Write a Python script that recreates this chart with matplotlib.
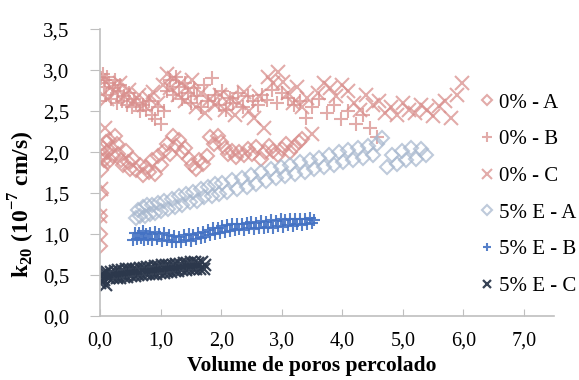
import matplotlib
matplotlib.use('Agg')
import matplotlib.pyplot as plt

# 0% - A (losangos)
x_0a = [0.00, 0.00, 0.00, 0.01, 0.02, 0.03, 0.05, 0.07, 0.09, 0.11,
        0.13, 0.15, 0.18, 0.21, 0.24, 0.27, 0.30, 0.34, 0.38, 0.42,
        0.46, 0.50, 0.55, 0.60, 0.65, 0.70, 0.75, 0.80, 0.85, 0.90,
        0.95, 1.00, 1.05, 1.10, 1.15, 1.20, 1.25, 1.30, 1.35, 1.40,
        1.46, 1.52, 1.58, 1.64, 1.70, 1.76, 1.82, 1.88, 1.94, 2.00,
        2.06, 2.12, 2.18, 2.24, 2.30, 2.37, 2.44, 2.51, 2.58, 2.65,
        2.72, 2.79, 2.86, 2.93, 3.00, 3.07, 3.14, 3.21, 3.28, 3.34]
y_0a = [0.85, 1.00, 1.22, 1.50, 1.78, 1.95, 2.05, 1.90, 2.12, 2.00,
        1.88, 2.15, 2.05, 1.95, 2.20, 2.10, 1.98, 1.90, 1.85, 2.02,
        1.88, 1.80, 1.92, 1.78, 1.85, 1.72, 1.82, 1.76, 1.90, 1.74,
        1.95, 1.85, 2.02, 2.10, 1.98, 2.20, 2.08, 2.15, 2.00, 2.05,
        1.92, 1.85, 1.80, 1.90, 1.86, 1.95, 2.18, 2.10, 2.20, 2.12,
        2.05, 1.98, 2.02, 1.94, 2.00, 1.96, 2.04, 1.98, 2.06, 1.92,
        2.00, 2.08, 2.02, 1.96, 2.04, 2.10, 2.00, 2.06, 2.12, 2.16]

# 0% - B (cruzes +)
x_0b = [0.00, 0.02, 0.04, 0.06, 0.08, 0.10, 0.12, 0.15, 0.18, 0.21,
        0.24, 0.27, 0.30, 0.33, 0.36, 0.40, 0.44, 0.48, 0.52, 0.56,
        0.60, 0.65, 0.70, 0.75, 0.80, 0.85, 0.90, 0.95, 1.00, 1.05,
        1.10, 1.15, 1.20, 1.25, 1.30, 1.35, 1.40, 1.45, 1.50, 1.55,
        1.60, 1.66, 1.72, 1.78, 1.84, 1.90, 1.96, 2.02, 2.08, 2.14,
        2.20, 2.28, 2.36, 2.44, 2.52, 2.60, 2.68, 2.76, 2.84, 2.92,
        3.00, 3.10, 3.20, 3.30, 3.40, 3.50, 3.62, 3.74, 3.86, 3.98,
        4.10, 4.22, 4.34, 4.46, 4.58]
y_0b = [2.62, 2.90, 2.95, 2.80, 2.88, 2.70, 2.92, 2.85, 2.65, 2.78,
        2.88, 2.60, 2.75, 2.82, 2.62, 2.68, 2.58, 2.72, 2.55, 2.65,
        2.60, 2.50, 2.58, 2.52, 2.62, 2.45, 2.40, 2.55, 2.35, 2.50,
        2.75, 2.88, 2.70, 2.92, 2.80, 2.65, 2.85, 2.72, 2.60, 2.78,
        2.68, 2.55, 2.82, 2.62, 2.90, 2.70, 2.58, 2.75, 2.52, 2.66,
        2.60, 2.72, 2.55, 2.68, 2.62, 2.58, 2.70, 2.64, 2.76, 2.60,
        2.72, 2.66, 2.58, 2.62, 2.42, 2.55, 2.65, 2.48, 2.58, 2.40,
        2.50, 2.35, 2.45, 2.30, 2.18]

# 0% - C (x)
x_0c = [0.00, 0.02, 0.05, 0.08, 0.12, 0.18, 0.25, 0.32, 0.40, 0.48,
        0.56, 0.64, 0.72, 0.80, 0.88, 0.96, 1.04, 1.10, 1.16, 1.22,
        1.28, 1.34, 1.40, 1.46, 1.52, 1.58, 1.66, 1.74, 1.82, 1.90,
        1.98, 2.06, 2.14, 2.22, 2.30, 2.38, 2.46, 2.54, 2.62, 2.70,
        2.78, 2.86, 2.94, 3.02, 3.10, 3.18, 3.26, 3.34, 3.42, 3.50,
        3.60, 3.70, 3.80, 3.90, 4.00, 4.10, 4.20, 4.30, 4.40, 4.50,
        4.60, 4.70, 4.80, 4.90, 5.00, 5.10, 5.20, 5.30, 5.40, 5.50,
        5.60, 5.70, 5.80, 5.90, 5.98]
y_0c = [1.22, 1.55, 1.90, 2.30, 2.65, 2.80, 2.72, 2.85, 2.68, 2.76,
        2.62, 2.70, 2.58, 2.66, 2.74, 2.60, 2.82, 2.95, 2.78, 2.90,
        2.70, 2.85, 2.62, 2.76, 2.88, 2.55, 2.72, 2.48, 2.65, 2.58,
        2.70, 2.52, 2.66, 2.45, 2.60, 2.74, 2.50, 2.42, 2.68, 2.30,
        2.92, 2.84, 2.98, 2.86, 2.72, 2.60, 2.80, 2.55, 2.66, 2.22,
        2.72, 2.84, 2.78, 2.68, 2.82, 2.75, 2.60, 2.52, 2.70, 2.58,
        2.62, 2.48, 2.55, 2.45, 2.60, 2.52, 2.48, 2.58, 2.52, 2.44,
        2.56, 2.62, 2.42, 2.70, 2.85]

# 5% E - A
x_5a = [0.60, 0.63, 0.66, 0.70, 0.74, 0.78, 0.82, 0.86, 0.90, 0.95,
        1.00, 1.06, 1.12, 1.18, 1.24, 1.30, 1.36, 1.42, 1.48, 1.54,
        1.60, 1.66, 1.72, 1.78, 1.84, 1.90, 1.96, 2.02, 2.10, 2.18,
        2.26, 2.34, 2.42, 2.50, 2.58, 2.66, 2.74, 2.82, 2.90, 2.98,
        3.06, 3.14, 3.22, 3.30, 3.38, 3.46, 3.54, 3.62, 3.70, 3.78,
        3.86, 3.94, 4.02, 4.10, 4.18, 4.26, 4.34, 4.42, 4.50, 4.58,
        4.66, 4.74, 4.82, 4.90, 4.98, 5.06, 5.14, 5.22, 5.30, 5.38]
y_5a = [1.20, 1.30, 1.22, 1.33, 1.22, 1.35, 1.25, 1.36, 1.26, 1.38,
        1.28, 1.41, 1.31, 1.43, 1.33, 1.46, 1.36, 1.49, 1.39, 1.52,
        1.41, 1.55, 1.45, 1.58, 1.47, 1.61, 1.49, 1.63, 1.52, 1.66,
        1.55, 1.69, 1.58, 1.72, 1.61, 1.76, 1.65, 1.79, 1.68, 1.82,
        1.71, 1.85, 1.74, 1.88, 1.76, 1.90, 1.79, 1.93, 1.82, 1.96,
        1.85, 2.00, 1.88, 2.03, 1.91, 2.05, 1.93, 2.07, 1.96, 2.10,
        2.17, 1.82, 1.96, 1.86, 2.01, 1.90, 2.05, 1.92, 2.04, 1.96]

# 5% E - B
x_5b = [0.55, 0.58, 0.61, 0.64, 0.67, 0.70, 0.73, 0.76, 0.79, 0.82,
        0.86, 0.90, 0.94, 0.98, 1.02, 1.06, 1.10, 1.14, 1.18, 1.22,
        1.26, 1.30, 1.34, 1.38, 1.42, 1.46, 1.50, 1.54, 1.58, 1.62,
        1.66, 1.70, 1.74, 1.78, 1.82, 1.86, 1.90, 1.94, 1.98, 2.02,
        2.06, 2.10, 2.14, 2.18, 2.22, 2.26, 2.30, 2.34, 2.38, 2.42,
        2.46, 2.50, 2.54, 2.58, 2.62, 2.66, 2.70, 2.74, 2.78, 2.82,
        2.86, 2.90, 2.94, 2.98, 3.02, 3.06, 3.10, 3.14, 3.18, 3.22,
        3.26, 3.30, 3.34, 3.38, 3.42, 3.46, 3.50, 3.54]
y_5b = [0.93, 1.01, 0.94, 1.02, 0.95, 1.04, 0.93, 1.00, 0.94, 1.02,
        0.93, 1.03, 0.94, 1.00, 0.92, 1.01, 0.93, 0.99, 0.91, 0.98,
        0.90, 0.97, 0.91, 0.99, 0.93, 1.00, 0.92, 0.99, 0.94, 1.01,
        0.95, 1.03, 0.97, 1.05, 0.99, 1.07, 1.00, 1.08, 1.02, 1.10,
        1.03, 1.11, 1.04, 1.12, 1.05, 1.12, 1.06, 1.13, 1.05, 1.14,
        1.07, 1.15, 1.06, 1.14, 1.08, 1.16, 1.07, 1.15, 1.09, 1.17,
        1.08, 1.16, 1.10, 1.18, 1.09, 1.17, 1.11, 1.19, 1.10, 1.18,
        1.12, 1.19, 1.11, 1.18, 1.13, 1.20, 1.14, 1.17]

# 5% E - C
x_5c = [0.00, 0.01, 0.02, 0.04, 0.06, 0.08, 0.10, 0.12, 0.15, 0.18,
        0.21, 0.24, 0.27, 0.30, 0.33, 0.36, 0.39, 0.42, 0.45, 0.48,
        0.51, 0.54, 0.57, 0.60, 0.63, 0.66, 0.69, 0.72, 0.75, 0.78,
        0.81, 0.84, 0.87, 0.90, 0.93, 0.96, 0.99, 1.02, 1.05, 1.08,
        1.11, 1.14, 1.17, 1.20, 1.23, 1.26, 1.29, 1.32, 1.35, 1.38,
        1.41, 1.44, 1.47, 1.50, 1.53, 1.56, 1.59, 1.62, 1.65, 1.68,
        1.71, 1.74]
y_5c = [0.40, 0.50, 0.43, 0.52, 0.44, 0.53, 0.38, 0.54, 0.46, 0.54,
        0.46, 0.55, 0.47, 0.56, 0.47, 0.56, 0.48, 0.57, 0.48, 0.57,
        0.49, 0.58, 0.49, 0.58, 0.50, 0.59, 0.50, 0.59, 0.51, 0.60,
        0.51, 0.60, 0.52, 0.61, 0.52, 0.61, 0.53, 0.62, 0.53, 0.62,
        0.54, 0.63, 0.54, 0.63, 0.55, 0.64, 0.55, 0.64, 0.56, 0.65,
        0.56, 0.65, 0.57, 0.66, 0.57, 0.66, 0.57, 0.65, 0.58, 0.66,
        0.57, 0.63]

labels = ['0% - A', '0% - B', '0% - C', '5% E - A', '5% E - B', '5% E - C']
xticks = [0, 1, 2, 3, 4, 5, 6, 7]
yticks = [0, 0.5, 1, 1.5, 2, 2.5, 3, 3.5]

plt.rcParams['font.family'] = ['Liberation Serif', 'DejaVu Serif']
plt.rcParams['mathtext.fontset'] = 'custom'
plt.rcParams['mathtext.rm'] = 'Liberation Serif:bold'
plt.rcParams['mathtext.bf'] = 'Liberation Serif:bold'

fig = plt.figure(figsize=(5.79, 3.8), dpi=100)
ax = fig.add_axes([0.173, 0.168, 0.784, 0.755])

pink = '#d98f8d'
series = [
    (x_0a, y_0a, 'D', pink, 7.5, 1.5, 0.75),
    (x_0b, y_0b, '+', pink, 10, 1.5, 0.75),
    (x_0c, y_0c, 'x', pink, 10, 1.5, 0.75),
    (x_5a, y_5a, 'D', '#a9b9cf', 7.5, 1.5, 0.75),
    (x_5b, y_5b, '+', '#4472c4', 9, 1.5, 0.9),
    (x_5c, y_5c, 'x', '#2c384c', 9, 1.6, 0.95),
]
for (xs, ys, m, c, ms, mew, a), lab in zip(series, labels):
    ax.plot(xs, ys, linestyle='none', marker=m, markersize=ms,
            markerfacecolor='none', markeredgecolor=c, markeredgewidth=mew,
            alpha=a, label=lab)

ax.set_xlim(0, 7.5)
ax.set_ylim(0, 3.5)
ax.set_xticks(xticks)
ax.set_yticks(yticks)
ax.set_xticklabels([f'{v:.1f}'.replace('.', ',') for v in xticks])
ax.set_yticklabels([f'{v:.1f}'.replace('.', ',') for v in yticks])
ax.tick_params(axis='x', direction='in', length=5, color='#bfbfbf',
               labelsize=14.5, pad=11)
ax.tick_params(axis='y', direction='out', length=7, color='#bfbfbf',
               labelsize=15, pad=15)

for s in ['top', 'right']:
    ax.spines[s].set_visible(False)
for s in ['left', 'bottom']:
    ax.spines[s].set_color('#bfbfbf')
    ax.spines[s].set_linewidth(1.2)

ax.set_xlabel('Volume de poros percolado', fontsize=15.5, fontweight='bold')
ax.xaxis.set_label_coords(0.467, -0.138)
ax.set_ylabel(r'k$_{20}$ (10$^{-7}$ cm/s)', fontsize=17, fontweight='bold')
ax.yaxis.set_label_coords(-0.139, 0.39)

leg = ax.legend(loc='upper left', bbox_to_anchor=(0.819, 0.807), frameon=False,
                fontsize=15, markerscale=0.7, handlelength=0.6,
                handletextpad=0.3, labelspacing=0.82, borderaxespad=0)

fig.savefig('out.png', dpi=100)
